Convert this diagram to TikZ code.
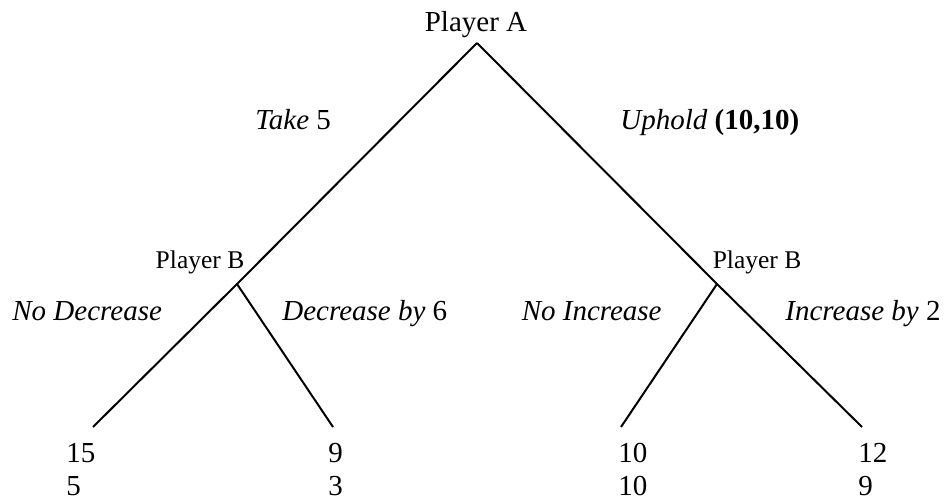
\documentclass[tikz,border=0pt]{standalone}
\usepackage{fontspec}
\setmainfont{Liberation Serif}

\begin{document}
\begin{tikzpicture}[x=0.5pt,y=-0.5pt]
\tikzstyle{branch}=[line width=1pt]
\tikzstyle{player}=[inner sep=0pt, anchor=base, font=\fontsize{14.5}{17}\selectfont]
\tikzstyle{move}=[inner sep=0pt, anchor=base west, font=\fontsize{14.5}{17}\selectfont\itshape]
\tikzstyle{payoff}=[inner sep=0pt, anchor=base west, font=\fontsize{14.5}{17}\selectfont]
  \useasboundingbox (0,0) rectangle (945,501);
  \coordinate (a) at (477,43);
  \coordinate (bl) at (237,284);
  \coordinate (br) at (717,284);
  \coordinate (l1) at (93,427);
  \coordinate (l2) at (333,427);
  \coordinate (l3) at (621,427);
  \coordinate (l4) at (862,427);
  \draw[branch] (a) -- (bl) -- (l1);
  \draw[branch] (bl) -- (l2);
  \draw[branch] (a) -- (br) -- (l4);
  \draw[branch] (br) -- (l3);
  \node[player] (pa) at (476,32) {Player A};
  \node[player, font=\fontsize{12.75}{15}\selectfont] (pbl) at (200,269) {Player B};
  \node[player, font=\fontsize{12.75}{15}\selectfont] (pbr) at (757,269) {Player B};
  \node[move] (take) at (255,130) {Take {\upshape 5}};
  \node[move] (uphold) at (620,130) {Uphold {\upshape\bfseries (10,10)}};
  \node[move] (nodec) at (12,321) {No Decrease};
  \node[move] (dec) at (282,321) {Decrease by {\upshape 6}};
  \node[move, anchor=base east] (noinc) at (662,321) {No Increase};
  \node[move] (inc) at (785,321) {Increase by {\upshape 2}};
  \node[payoff] (u1) at (66,462) {15};
  \node[payoff] (v1) at (66,495) {5};
  \node[payoff] (u2) at (328,462) {9};
  \node[payoff] (v2) at (328,495) {3};
  \node[payoff] (u3) at (618,462) {10};
  \node[payoff] (v3) at (618,495) {10};
  \node[payoff] (u4) at (858,462) {12};
  \node[payoff] (v4) at (858,495) {9};
\end{tikzpicture}
\end{document}
